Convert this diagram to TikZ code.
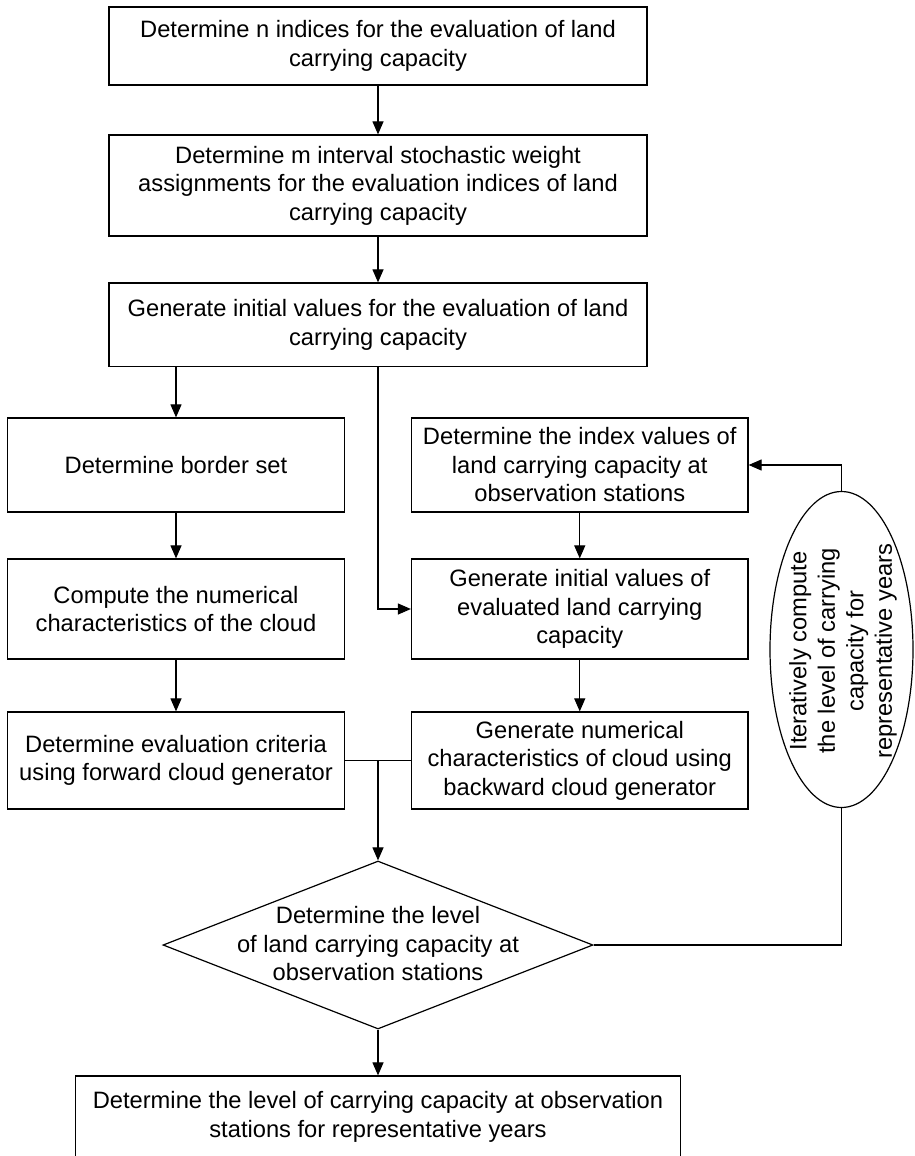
\documentclass[tikz,border=0pt]{standalone}
\usepackage{fontspec}
\setmainfont{Liberation Sans}
\usetikzlibrary{arrows.meta,shapes.geometric}
\begin{document}
\begin{tikzpicture}[x=1pt,y=-1pt,
  every node/.style={font=\fontsize{23.7}{28.5}\selectfont},
  box/.style={draw,line width=1.2pt,rectangle,align=center,inner sep=4pt},
  line/.style={line width=1.1pt},
  arr/.style={line width=1.1pt,-{Triangle[length=13pt,width=11pt]}}]
\useasboundingbox (0,0) rectangle (914,1156);

\node[box,minimum width=538,minimum height=78] (b1) at (378,46)
  {Determine n indices for the evaluation of land\\carrying capacity};
\node[box,minimum width=538,minimum height=101] (b2) at (378,185.5)
  {Determine m interval stochastic weight\\assignments for the evaluation indices of land\\carrying capacity};
\node[box,minimum width=538,minimum height=83.5] (b3) at (378,324.75)
  {Generate initial values for the evaluation of land\\carrying capacity};

\node[box,minimum width=337,minimum height=94] (l1) at (176,465)
  {Determine border set};
\node[box,minimum width=337,minimum height=100] (l2) at (176,609)
  {Compute the numerical\\characteristics of the cloud};
\node[box,minimum width=337,minimum height=97] (l3) at (176,760.5)
  {Determine evaluation criteria\\using forward cloud generator};

\node[box,minimum width=336.5,minimum height=94] (r1) at (579.75,465)
  {Determine the index values of\\land carrying capacity at\\observation stations};
\node[box,minimum width=336.5,minimum height=100] (r2) at (579.75,609)
  {Generate initial values of\\evaluated land carrying\\capacity};
\node[box,minimum width=336.5,minimum height=97] (r3) at (579.75,760.5)
  {Generate numerical\\characteristics of cloud using\\backward cloud generator};

\node[draw,diamond,line width=1.2pt,inner sep=0pt,minimum width=430,minimum height=168] (dec) at (378,945) {};
\node[align=center,inner sep=0pt] (dectext) at (378,944)
  {Determine the level\\of land carrying capacity at\\observation stations};

\node[draw,ellipse,line width=1.2pt,inner sep=0pt,minimum width=143,minimum height=316] (ell) at (841.5,649.5) {};
\node[align=center,rotate=90,inner sep=0pt] (elltext) at (843,651)
  {Iteratively compute\\the level of carrying\\capacity for\\representative years};

\node[box,minimum width=604.5,minimum height=82] (fin) at (378,1117)
  {Determine the level of carrying capacity at observation\\stations for representative years};

\draw[arr] (b1) -- (b2);
\draw[arr] (b2) -- (b3);
\draw[arr] (b3.south -| l1.north) -- (l1.north);
\draw[arr] (l1) -- (l2);
\draw[arr] (l2) -- (l3);
\draw[arr] (b3.south) |- (r2.west);
\draw[arr] (r1) -- (r2);
\draw[arr] (r2) -- (r3);
\draw[line] (l3.east) -- (r3.west);
\draw[arr] (l3.east -| dec.north) -- (dec.north);
\draw[arr] (dec.south) -- (fin.north);
\draw[line] (dec.east) -| (ell.south);
\draw[arr] (ell.north) |- (r1.east);
\end{tikzpicture}
\end{document}
